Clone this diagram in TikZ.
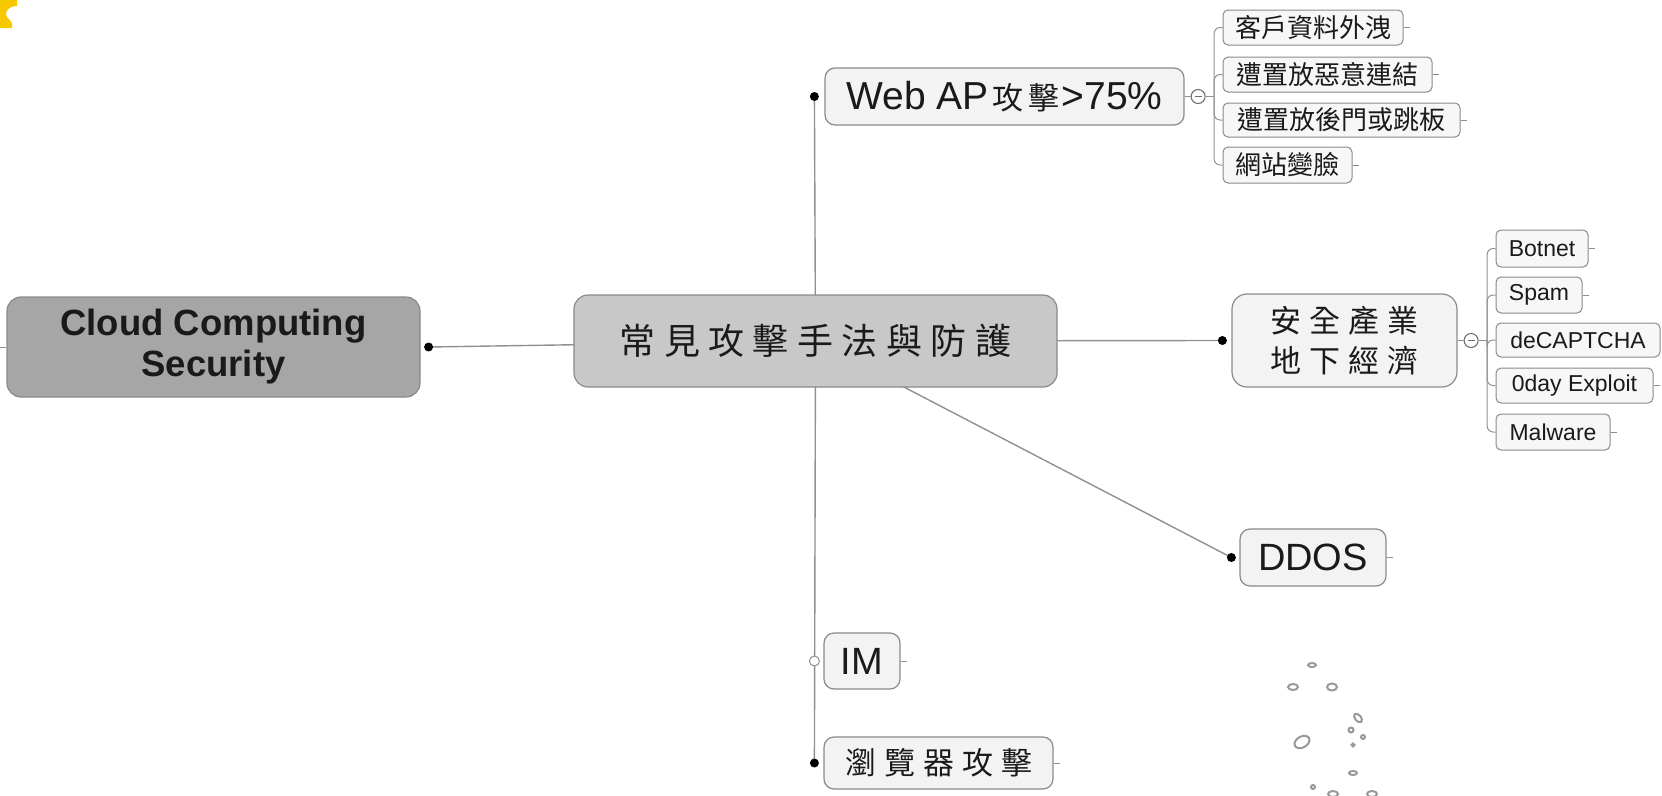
\documentclass[tikz,border=0pt]{standalone}
\usepackage{fontspec}
\setmainfont{Liberation Sans}
\newfontfamily\cjk{Noto Sans CJK TC}
\usetikzlibrary{backgrounds}

\definecolor{rootfill}{HTML}{A6A6A6}
\definecolor{hubfill}{HTML}{C8C8C8}
\definecolor{topicfill}{HTML}{F3F3F3}
\definecolor{leaffill}{HTML}{F7F7F7}
\definecolor{boxline}{HTML}{8A8A8A}
\definecolor{linegray}{HTML}{909090}
\definecolor{foldgray}{HTML}{6E6E6E}
\definecolor{textdark}{HTML}{1A1A1A}
\definecolor{sunny}{HTML}{F7C800}

\begin{document}
\begin{tikzpicture}[x=1pt,y=-1pt,
  conn/.style={draw=linegray, line width=1.4pt},
  twig/.style={draw=linegray, line width=1pt},
  box/.style={draw=boxline, line width=1.2pt, rounded corners=10pt,
    inner sep=0pt, align=center, text=textdark},
  rootbox/.style={box, fill=rootfill, rounded corners=14pt},
  hubbox/.style={box, fill=hubfill, rounded corners=14pt},
  topicbox/.style={box, fill=topicfill},
  leafbox/.style={box, fill=leaffill, rounded corners=5pt, line width=1pt},
  bullet/.style={circle, fill=black, inner sep=0pt, minimum size=9pt},
  hollow/.style={circle, draw=linegray, fill=white, inner sep=0pt,
    minimum size=10pt, line width=1pt},
  fold/.style={circle, draw=foldgray, fill=white, inner sep=0pt,
    minimum size=14pt, line width=1.1pt},
  bigtxt/.style={font=\fontsize{38}{44}\selectfont},
  cjktxt/.style={font=\cjk\fontsize{31}{40}\selectfont},
  leafcjk/.style={font=\cjk\fontsize{26}{30}\selectfont},
  leaflat/.style={font=\fontsize{23}{27}\selectfont},
]
\useasboundingbox (0,0) rectangle (1662,795);

% corner ornament
\fill[sunny] (0,0) -- (17,0) -- (17,6)
  .. controls (9,6) and (4,11) .. (7,17)
  .. controls (9,20) and (13,21) .. (12,28) -- (0,28) -- cycle;

% central topic and main branches
\node[rootbox, minimum width=413, minimum height=100,
  font=\bfseries\fontsize{36.5}{41}\selectfont] (root) at (213.5,347)
  {Cloud Computing\\Security};
\node[hubbox, minimum width=483, minimum height=92,
  font=\cjk\fontsize{36}{40}\selectfont] (hub) at (815.5,341)
  {常\hspace{8.5pt}見\hspace{8.5pt}攻\hspace{8.5pt}擊\hspace{8.5pt}手\hspace{8.5pt}法\hspace{8.5pt}與\hspace{8.5pt}防\hspace{8.5pt}護};
\node[topicbox, minimum width=359, minimum height=57,
  font=\fontsize{39}{44}\selectfont] (wap) at (1004.5,96.5)
  {Web AP{\cjk\fontsize{31}{36}\selectfont\hspace{4pt}攻\hspace{5pt}擊\hspace{2pt}}>75\%};
\node[topicbox, rounded corners=15pt, minimum width=225, minimum height=93,
  cjktxt] (sec) at (1344.5,340.5)
  {安\hspace{8pt}全\hspace{8pt}產\hspace{8pt}業\\地\hspace{8pt}下\hspace{8pt}經\hspace{8pt}濟};
\node[topicbox, minimum width=146, minimum height=57, bigtxt] (ddos) at (1313,557.5) {DDOS};
\node[topicbox, minimum width=76, minimum height=56, bigtxt] (im) at (862,661) {IM};
\node[topicbox, minimum width=229, minimum height=52, cjktxt] (brw) at (938.5,763)
  {瀏\hspace{8pt}覽\hspace{8pt}器\hspace{8pt}攻\hspace{8pt}擊};

% attachment points
\node[bullet] (rootdot) at ([xshift=8pt]root.east) {};
\node[bullet] (wapdot) at ([xshift=-10pt]wap.west) {};
\node[bullet] (secdot) at ([xshift=-9pt]sec.west) {};
\node[bullet] (ddosdot) at ([xshift=-8pt]ddos.west) {};
\node[hollow] (imdot) at ([xshift=-9pt]im.west) {};
\node[bullet] (brwdot) at ([xshift=-9pt]brw.west) {};

\begin{scope}[on background layer]
  \draw[conn] (rootdot.center) -- (hub.center);
  \draw[conn] (hub.center) -- (wapdot.center);
  \draw[conn] (hub.center) -- (brwdot.center);
  \draw[conn] (hub.center) -- (secdot.center);
  \draw[conn] (hub.center) -- (ddosdot.center);
\end{scope}

% Web AP sub-topics
\node[leafbox, minimum width=180, minimum height=35, leafcjk] (w1) at (1313,27.5) {客戶資料外洩};
\node[leafbox, minimum width=209, minimum height=35, leafcjk] (w2) at (1327.5,74.5) {遭置放惡意連結};
\node[leafbox, minimum width=237, minimum height=34, leafcjk] (w3) at (1341.5,120) {遭置放後門或跳板};
\node[leafbox, minimum width=129, minimum height=36, leafcjk] (w4) at (1287.5,165) {網站變臉};

\node[fold] (wapfold) at ([xshift=13.5pt]wap.east) {};
\draw[foldgray, line width=1.4pt] ([xshift=-3.5pt]wapfold.center) -- ([xshift=3.5pt]wapfold.center);
\draw[twig] (wap.east) -- (wapfold.west);
\coordinate (wapfork) at ([xshift=8.5pt]wapfold.east);
\draw[twig] (wapfold.east) -- (wapfork);
\foreach \leaf in {w1,w2,w3,w4}{
  \draw[twig, rounded corners=6pt] (wapfork) |- (\leaf.west);
  \draw[twig] (\leaf.east) -- ++(6,0);
}

% underground economy sub-topics
\node[leafbox, minimum width=92, minimum height=37, leaflat] (s1) at (1542,248.5) {Botnet};
\node[leafbox, minimum width=86, minimum height=36, leaflat] (s2) at (1539,295) {Spam};
\node[leafbox, minimum width=164, minimum height=34, leaflat] (s3) at (1578,340) {deCAPTCHA};
\node[leafbox, minimum width=157, minimum height=35, leaflat] (s4) at (1574.5,385.5) {0day Exploit};
\node[leafbox, minimum width=114, minimum height=36, leaflat] (s5) at (1553,432) {Malware};

\node[fold] (secfold) at ([xshift=13.5pt]sec.east) {};
\draw[foldgray, line width=1.4pt] ([xshift=-3.5pt]secfold.center) -- ([xshift=3.5pt]secfold.center);
\draw[twig] (sec.east) -- (secfold.west);
\coordinate (secfork) at ([xshift=8.5pt]secfold.east);
\draw[twig] (secfold.east) -- (secfork);
\foreach \leaf in {s1,s2,s3,s4,s5}{
  \draw[twig, rounded corners=6pt] (secfork) |- (\leaf.west);
}
\foreach \leaf in {s1,s2,s4,s5}{
  \draw[twig] (\leaf.east) -- ++(6,0);
}

% short stubs of collapsed topics
\draw[twig] (root.west) -- ++(-6,0);
\draw[twig] (ddos.east) -- ++(6,0);
\draw[twig] (im.east) -- ++(6,0);
\draw[twig] (brw.east) -- ++(6,0);

% water drops ornament
\begin{scope}[draw=gray!80, line width=2pt]
  \draw (1312,665) ellipse (4 and 2);
  \draw (1293,687) ellipse (5 and 3);
  \draw (1332,687) ellipse (5 and 3.5);
  \draw[rotate around={-50:(1358,718)}] (1358,718) ellipse (5 and 3);
  \draw (1351,730) ellipse (2.5 and 2.5);
  \draw (1363,737) ellipse (2 and 2);
  \draw[rotate around={30:(1302,742)}] (1302,742) ellipse (8 and 5.5);
  \draw (1353,745) ellipse (1.5 and 1.5);
  \draw (1353,773) ellipse (4 and 2);
  \draw (1313,787) ellipse (2 and 2);
  \draw (1333,794) ellipse (5 and 3);
  \draw (1372,794) ellipse (5 and 3);
\end{scope}
\end{tikzpicture}
\end{document}
